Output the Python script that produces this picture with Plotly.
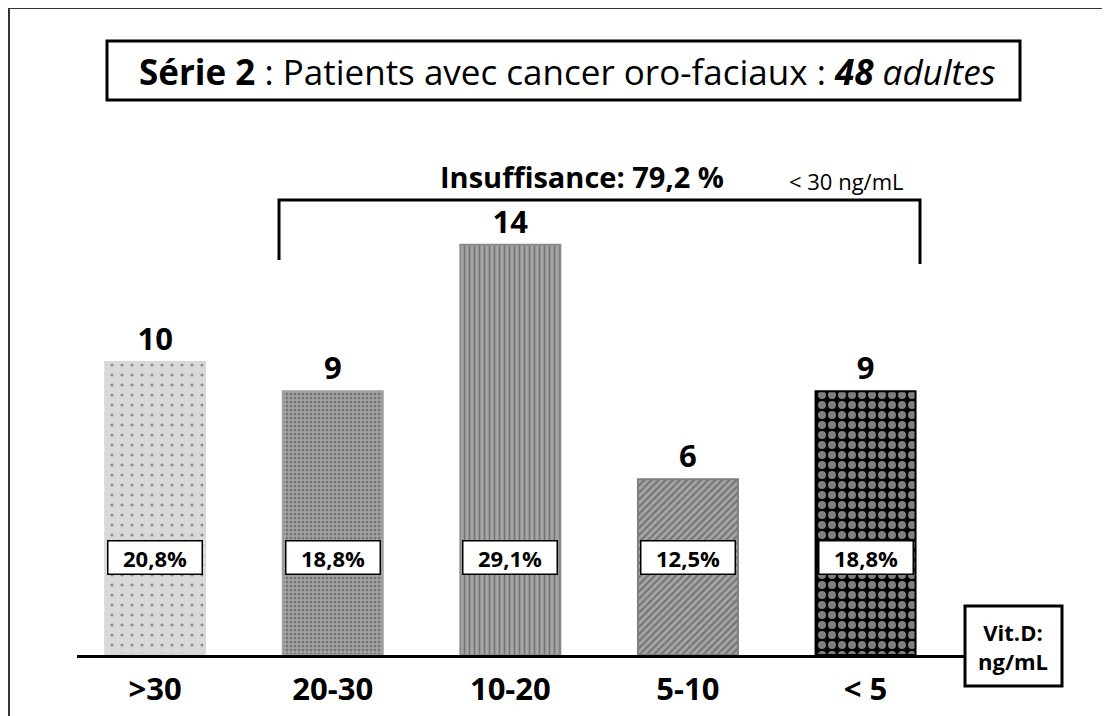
import plotly.graph_objects as go

categories = [">30", "20-30", "10-20", "5-10", "< 5"]
counts = [10, 9, 14, 6, 9]
pct_labels = ["20,8%", "18,8%", "29,1%", "12,5%", "18,8%"]
title_html = "<b>Série 2</b> : Patients avec cancer oro-faciaux : <b><i>48</i></b> <i>adultes</i>"
insuff_text = "<b>Insuffisance: 79,2 %</b>"
insuff_sub = "< 30 ng/mL"
unit_text = "<b>Vit.D:<br>ng/mL</b>"

FONT = "Open Sans"
OFF = 8  # page body margin
W, H = 1110, 716
L, R, T, B = 69, 153, 92, 69
PW, PH = W - L - R, H - T - B


def px(x):
    return (x - OFF - L) / PW


def py(y):
    return (H - B - (y - OFF)) / PH


pattern_shapes = [".", ".", "|", "/", "."]
bg_colors = ["#d9d9d9", "#a6a6a6", "#a6a6a6", "#a6a6a6", "#000000"]
fg_colors = ["#000000", "#333333", "#000000", "#000000", "#8c8c8c"]
pattern_sizes = [10, 4, 5, 5, 10]
solidities = [0.08, 0.45, 0.35, 0.45, 0.5]
line_colors = ["#d9d9d9", "#a0a0a0", "#8c8c8c", "#808080", "#000000"]

fig = go.Figure()
fig.add_trace(go.Bar(
    x=categories,
    y=counts,
    width=0.563,
    text=[str(v) for v in counts],
    textposition="outside",
    textfont=dict(family=FONT, size=31, color="black", weight="bold"),
    cliponaxis=False,
    marker=dict(
        color=bg_colors,
        line=dict(color=line_colors, width=2),
        pattern=dict(
            shape=pattern_shapes,
            fgcolor=fg_colors,
            size=pattern_sizes,
            solidity=solidities,
            fillmode="overlay",
        ),
    ),
    hoverinfo="skip",
    showlegend=False,
))

annotations = []
for c, p in zip(categories, pct_labels):
    annotations.append(dict(
        x=c, y=3.34, xref="x", yref="y", text="<b>" + p + "</b>",
        showarrow=False, font=dict(family=FONT, size=22, color="black"),
        bgcolor="white", bordercolor="black", borderwidth=1.5,
        width=91, height=30, borderpad=1,
        xanchor="center", yanchor="middle",
    ))

annotations += [
    dict(x=px(567), y=py(71), xref="paper", yref="paper", text=title_html,
         showarrow=False, font=dict(family=FONT, size=35, color="black"),
         xanchor="center", yanchor="middle"),
    dict(x=px(582), y=py(176), xref="paper", yref="paper", text=insuff_text,
         showarrow=False, font=dict(family=FONT, size=29, color="black"),
         xanchor="center", yanchor="middle"),
    dict(x=px(846), y=py(181), xref="paper", yref="paper", text=insuff_sub,
         showarrow=False, font=dict(family=FONT, size=22, color="black"),
         xanchor="center", yanchor="middle"),
    dict(x=px(1013), y=py(646), xref="paper", yref="paper", text=unit_text,
         showarrow=False, font=dict(family=FONT, size=22, color="black"),
         xanchor="center", yanchor="middle"),
]

shapes = [
    # outer frame
    dict(type="line", xref="paper", yref="paper", x0=px(9), x1=px(9), y0=py(8), y1=py(730),
         line=dict(color="#333333", width=2)),
    dict(type="line", xref="paper", yref="paper", x0=px(9), x1=px(1125), y0=py(8), y1=py(8),
         line=dict(color="#333333", width=2)),
    # title box
    dict(type="rect", xref="paper", yref="paper", x0=px(107), x1=px(1020), y0=py(41), y1=py(100),
         line=dict(color="black", width=3)),
    # bracket
    dict(type="path", xref="paper", yref="paper",
         path=f"M {px(279)} {py(260)} L {px(279)} {py(200)} L {px(920)} {py(200)} L {px(920)} {py(264)}",
         line=dict(color="black", width=3)),
    # unit box
    dict(type="rect", xref="paper", yref="paper", x0=px(965), x1=px(1062), y0=py(606), y1=py(686),
         fillcolor="white", line=dict(color="black", width=3)),
]

fig.update_layout(
    width=W, height=H, autosize=False,
    margin=dict(l=L, r=R, t=T, b=B, pad=0),
    paper_bgcolor="white", plot_bgcolor="white",
    annotations=annotations, shapes=shapes,
    bargap=0.4,
)
fig.update_xaxes(
    type="category", range=[-0.44, 4.56],
    showline=True, linecolor="black", linewidth=3,
    showgrid=False, zeroline=False, ticks="",
    tickfont=dict(family=FONT, size=31, color="black", weight="bold"),
    ticklabelstandoff=5,
)
fig.update_yaxes(range=[0, PH / 29.3], visible=False, showgrid=False, zeroline=False)

fig.write_html("out.html")
